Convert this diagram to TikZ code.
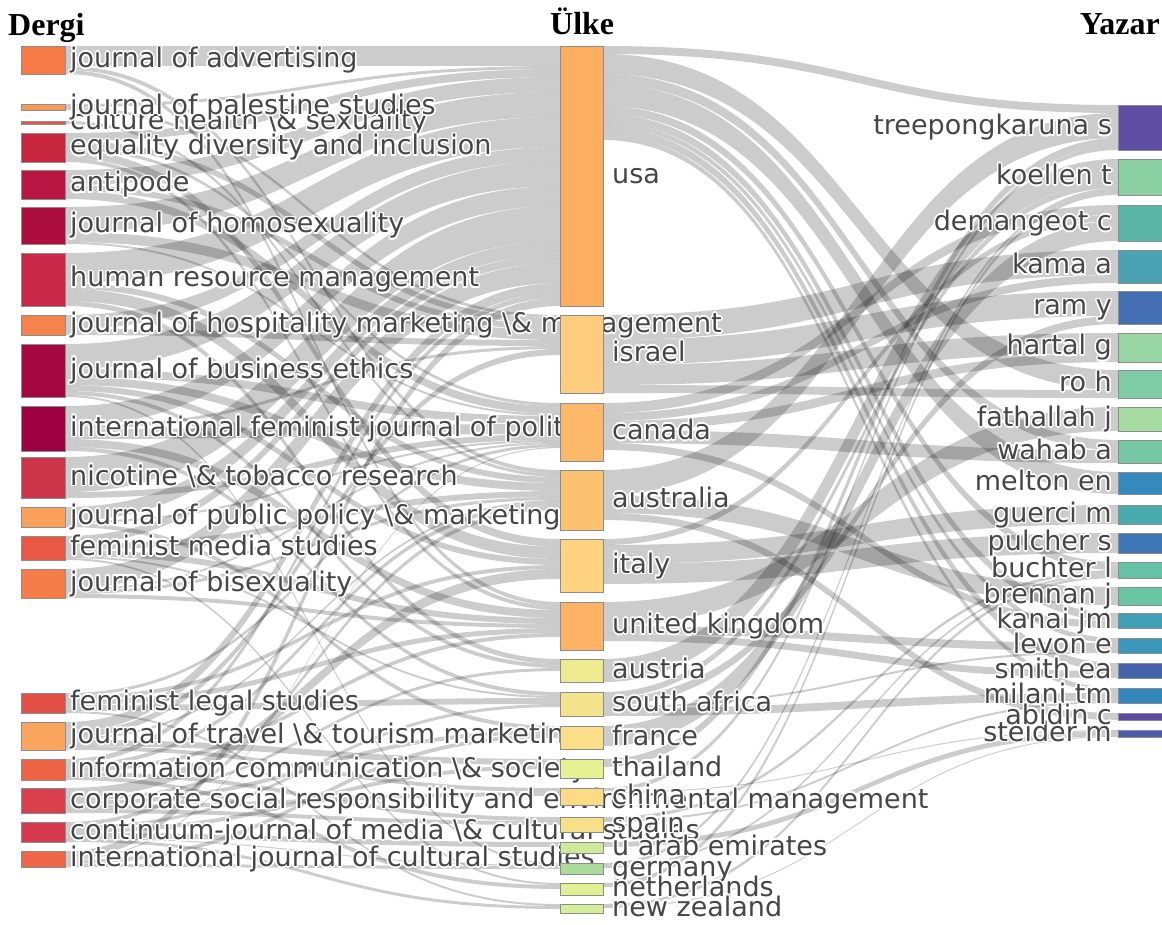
\documentclass[tikz,border=0pt]{standalone}
\usepackage{fontspec}
\setmainfont{DejaVu Sans}
\newfontfamily\headfont{Liberation Serif}
\usepackage{contour}
\contourlength{1.6pt}
\contournumber{8}
\usetikzlibrary{calc}
\usetikzlibrary{positioning}
\pgfdeclarelayer{links}
\pgfsetlayers{links,main}

\definecolor{txtgray}{HTML}{464646}
% journals
\definecolor{cjadv}{HTML}{F67B46}
\definecolor{cjps}{HTML}{F89A56}
\definecolor{cchs}{HTML}{E4574A}
\definecolor{cedi}{HTML}{C8263F}
\definecolor{canti}{HTML}{BA1644}
\definecolor{cjhom}{HTML}{AC0E40}
\definecolor{chrm}{HTML}{C92848}
\definecolor{cjhmm}{HTML}{F4844C}
\definecolor{cjbe}{HTML}{A50840}
\definecolor{cifjp}{HTML}{9E0142}
\definecolor{cntr}{HTML}{CC344A}
\definecolor{cjppm}{HTML}{F9A05A}
\definecolor{cfms}{HTML}{E85844}
\definecolor{cjbi}{HTML}{F57D4A}
\definecolor{cfls}{HTML}{E35046}
\definecolor{cjttm}{HTML}{FDA45E}
\definecolor{cics}{HTML}{EF6444}
\definecolor{ccsr}{HTML}{D9404C}
\definecolor{ccont}{HTML}{D6384C}
\definecolor{cijcs}{HTML}{F06646}
% countries
\definecolor{cusa}{HTML}{FDAE61}
\definecolor{cisr}{HTML}{FDCC7C}
\definecolor{ccan}{HTML}{FDB96A}
\definecolor{caus}{HTML}{FDC270}
\definecolor{cita}{HTML}{FED480}
\definecolor{cuk}{HTML}{FDB265}
\definecolor{caut}{HTML}{EEEA90}
\definecolor{czaf}{HTML}{F3E38A}
\definecolor{cfra}{HTML}{FDDE88}
\definecolor{ctha}{HTML}{E4F294}
\definecolor{cchn}{HTML}{FDDB84}
\definecolor{cesp}{HTML}{F7E08A}
\definecolor{cuae}{HTML}{CDEA9B}
\definecolor{cdeu}{HTML}{ACDC9B}
\definecolor{cnld}{HTML}{E2F094}
\definecolor{cnzl}{HTML}{D5EE99}
% authors
\definecolor{ctrp}{HTML}{5E4FA2}
\definecolor{ckoe}{HTML}{8CD1A3}
\definecolor{cdem}{HTML}{5BB6A8}
\definecolor{ckam}{HTML}{4BA2B2}
\definecolor{cram}{HTML}{4470B3}
\definecolor{char}{HTML}{98D5A4}
\definecolor{croh}{HTML}{7FCDA6}
\definecolor{cfat}{HTML}{A6DBA4}
\definecolor{cwah}{HTML}{76C8A5}
\definecolor{cmel}{HTML}{3489BD}
\definecolor{cgue}{HTML}{4AABAF}
\definecolor{cpul}{HTML}{3F77B6}
\definecolor{cbuc}{HTML}{66C2A5}
\definecolor{cbre}{HTML}{69C4A4}
\definecolor{ckan}{HTML}{3F9FB5}
\definecolor{clev}{HTML}{3C97BC}
\definecolor{csmi}{HTML}{4563AC}
\definecolor{cmil}{HTML}{3387BC}
\definecolor{cabi}{HTML}{5F48A0}
\definecolor{cste}{HTML}{4A5BA9}

\newcommand*{\colA}{21}
\newcommand*{\colB}{560}
\newcommand*{\colC}{1118}
\newcommand*{\fsize}{\fontsize{27}{30}\selectfont}
\newcommand*{\bsl}{\textbackslash\&}

% band from #1 (offset #2) to #3 (offset #4), width #5
\newcommand{\flow}[5]{%
  \path ($(#1.north east)+(0,#2)$) coordinate (fa)
        ($(#3.north west)+(0,#4)$) coordinate (fb)
        ($(fa)+(0,#5)$) coordinate (fc)
        ($(fb)+(0,#5)$) coordinate (fd)
        ($(fa)!.5!(fb)$) coordinate (fm);
  \fill[band] (fa) .. controls (fm |- fa) and (fm |- fb) .. (fb) -- (fd)
    .. controls (fm |- fd) and (fm |- fc) .. (fc) -- cycle;
}

\begin{document}
\begin{tikzpicture}[x=1pt, y=-1pt,
    nbox/.style={draw=black!45, line width=0.8pt, inner sep=0pt, outer sep=0pt, anchor=north west},
    lname/.style={inner sep=0pt, text=txtgray, font=\fsize, text height=21pt, text depth=6pt},
    head/.style={inner sep=0pt, font=\headfont\bfseries\fontsize{32}{36}\selectfont},
    band/.style={fill=black, fill opacity=0.2}]
    \useasboundingbox (0,0) rectangle (1162,925);

    \node[head, anchor=base west] (hdA) at (8,36) {Dergi};
    \node[head, anchor=base west] (hdB) at (550,35) {Ülke};
    \node[head, anchor=base east] (hdC) at (1160,35) {Yazar};

    % journals
    \foreach \nm/\yy/\hh/\lab in {jadv/46/28/journal of advertising,
        chs/121/3/culture health \bsl{} sexuality,
        jps/104/6/journal of palestine studies,
        edi/133/29/equality diversity and inclusion,
        anti/170/29/antipode,
        jhom/207/37/journal of homosexuality,
        hrm/253/53/human resource management,
        jhmm/315/20/journal of hospitality marketing \bsl{} management,
        jbe/344/53/journal of business ethics,
        ifjp/406/45/international feminist journal of politics,
        ntr/457/41/nicotine \bsl{} tobacco research,
        jppm/507/20/journal of public policy \bsl{} marketing,
        fms/536/24/feminist media studies,
        jbi/569/29/journal of bisexuality,
        fls/693/20/feminist legal studies,
        jttm/722/28/journal of travel \bsl{} tourism marketing,
        ics/759/21/information communication \bsl{} society,
        csr/788/25/corporate social responsibility and environmental management,
        cont/822/20/continuum-journal of media \bsl{} cultural studies,
        ijcs/851/16/international journal of cultural studies}{
        \node[nbox, fill=c\nm, minimum width=44, minimum height=\hh] (\nm) at (\colA,\yy) {};
        \node[lname, right=5pt of \nm] (\nm-t) {\contour{white}{\lab}};
    }

    % countries
    \foreach \nm/\yy/\hh/\lab in {usa/46/260/usa, isr/315/78/israel, can/403/58/canada,
        aus/470/60/australia, ita/539/53/italy, uk/602/48/united kingdom,
        aut/659/23/austria, zaf/692/24/south africa, fra/726/23/france,
        tha/759/19/thailand, chn/788/17/china, esp/817/15/spain,
        uae/842/11/u arab emirates, deu/863/11/germany, nld/883/12/netherlands,
        nzl/904/9/new zealand}{
        \node[nbox, fill=c\nm, minimum width=43, minimum height=\hh] (\nm) at (\colB,\yy) {};
        \node[lname, right=9pt of \nm] (\nm-t) {\contour{white}{\lab}};
    }

    % authors
    \foreach \nm/\yy/\hh/\lab in {trp/105/45/treepongkaruna s, koe/159/36/koellen t,
        dem/205/36/demangeot c, kam/250/33/kama a, ram/291/33/ram y,
        har/333/29/hartal g, roh/370/28/ro h, fat/407/24/fathallah j,
        wah/440/23/wahab a, mel/472/22/melton en, gue/505/19/guerci m,
        pul/533/20/pulcher s, buc/562/16/buchter l, bre/587/18/brennan j,
        kan/613/15/kanai jm, lev/638/15/levon e, smi/663/15/smith ea,
        mil/688/15/milani tm, ste/730/7/steider m, abi/713/7/abidin c}{
        \node[nbox, fill=c\nm, minimum width=44, minimum height=\hh] (\nm) at (\colC,\yy) {};
        \node[lname, left=6pt of \nm] (\nm-t) {\contour{white}{\lab}};
    }

    \begin{pgfonlayer}{links}
    \foreach \fs/\fa/\ft/\fb/\fw in {
        jadv/0/usa/0/20, jadv/20/aus/0/4, jadv/24/uk/0/4,
        jps/0/usa/20/3, jps/3/isr/0/3,
        chs/0/aus/4/3,
        edi/0/usa/23/8, edi/8/isr/3/6, edi/14/can/0/3, edi/17/ita/0/8, edi/25/uk/4/4,
        anti/0/usa/31/15, anti/15/isr/9/6, anti/21/can/3/8,
        jhom/0/usa/46/25, jhom/25/isr/15/10, jhom/35/can/11/2,
        hrm/0/usa/71/30, hrm/30/aus/7/6, hrm/36/ita/8/12, hrm/48/aut/0/5,
        jhmm/0/usa/101/14, jhmm/14/isr/25/6,
        jbe/0/usa/115/25, jbe/25/can/13/8, jbe/33/aus/13/8, jbe/41/ita/20/6, jbe/47/aut/5/4, jbe/51/deu/0/2,
        ifjp/0/usa/140/20, ifjp/20/isr/31/3, ifjp/23/can/21/10, ifjp/33/uk/8/8, ifjp/41/zaf/0/4,
        ntr/0/usa/160/35, ntr/35/can/31/6,
        jppm/0/usa/195/14, jppm/14/can/37/2, jppm/16/fra/0/4,
        fms/0/usa/209/8, fms/8/aus/21/6, fms/14/uk/16/6, fms/20/zaf/4/2, fms/22/nld/0/2,
        jbi/0/usa/217/20, jbi/20/can/39/2, jbi/22/aus/27/3, jbi/25/uk/22/4,
        fls/0/can/41/3, fls/3/ita/26/4, fls/7/uk/26/5, fls/12/zaf/6/6, fls/18/nzl/0/2,
        jttm/0/usa/237/10, jttm/10/isr/34/6, jttm/16/aus/30/2, jttm/18/tha/0/6, jttm/24/chn/0/4,
        ics/0/usa/247/5, ics/5/aus/32/4, ics/9/uk/31/4, ics/13/esp/0/4, ics/17/nld/2/4,
        csr/0/ita/30/10, csr/10/aut/9/3, csr/13/fra/4/4, csr/17/chn/4/4, csr/21/esp/4/4,
        cont/0/aus/36/4, cont/4/zaf/12/3, cont/7/tha/6/4, cont/11/uae/0/5, cont/16/deu/2/1, cont/17/nzl/2/3,
        ijcs/0/usa/252/8, ijcs/8/can/44/1, ijcs/9/fra/8/4, ijcs/13/deu/3/3,
        usa/0/trp/0/8, usa/8/roh/0/20, usa/28/wah/0/10, usa/38/mel/0/22, usa/60/buc/0/8,
        usa/68/kan/0/8, usa/76/lev/0/5, usa/81/smi/0/8, usa/89/mil/0/5,
        isr/0/kam/0/25, isr/25/ram/0/25, isr/50/har/0/20, isr/70/roh/20/8,
        can/0/dem/0/10, can/10/kam/25/8, can/18/har/20/9, can/27/wah/10/13, can/40/kan/8/7,
        aus/0/trp/8/25, aus/25/bre/0/18, aus/43/abi/0/7,
        ita/0/dem/10/6, ita/6/gue/0/19, ita/25/pul/0/20,
        uk/0/fat/0/24, uk/24/lev/5/8, uk/32/smi/8/7,
        aut/0/koe/0/23,
        zaf/0/koe/23/6, zaf/6/ram/25/8, zaf/14/lev/13/2, zaf/16/mil/5/8,
        fra/0/dem/16/20, tha/0/trp/33/8,
        chn/0/trp/41/4, chn/4/ste/0/1,
        esp/0/buc/8/3, esp/3/mil/13/2,
        uae/0/ste/1/5,
        deu/0/koe/29/3, deu/3/buc/11/2,
        nld/0/koe/32/4,
        nzl/0/buc/13/3, nzl/3/ste/6/1}{
        \flow{\fs}{\fa}{\ft}{\fb}{\fw}
    }
    \end{pgfonlayer}
\end{tikzpicture}
\end{document}
